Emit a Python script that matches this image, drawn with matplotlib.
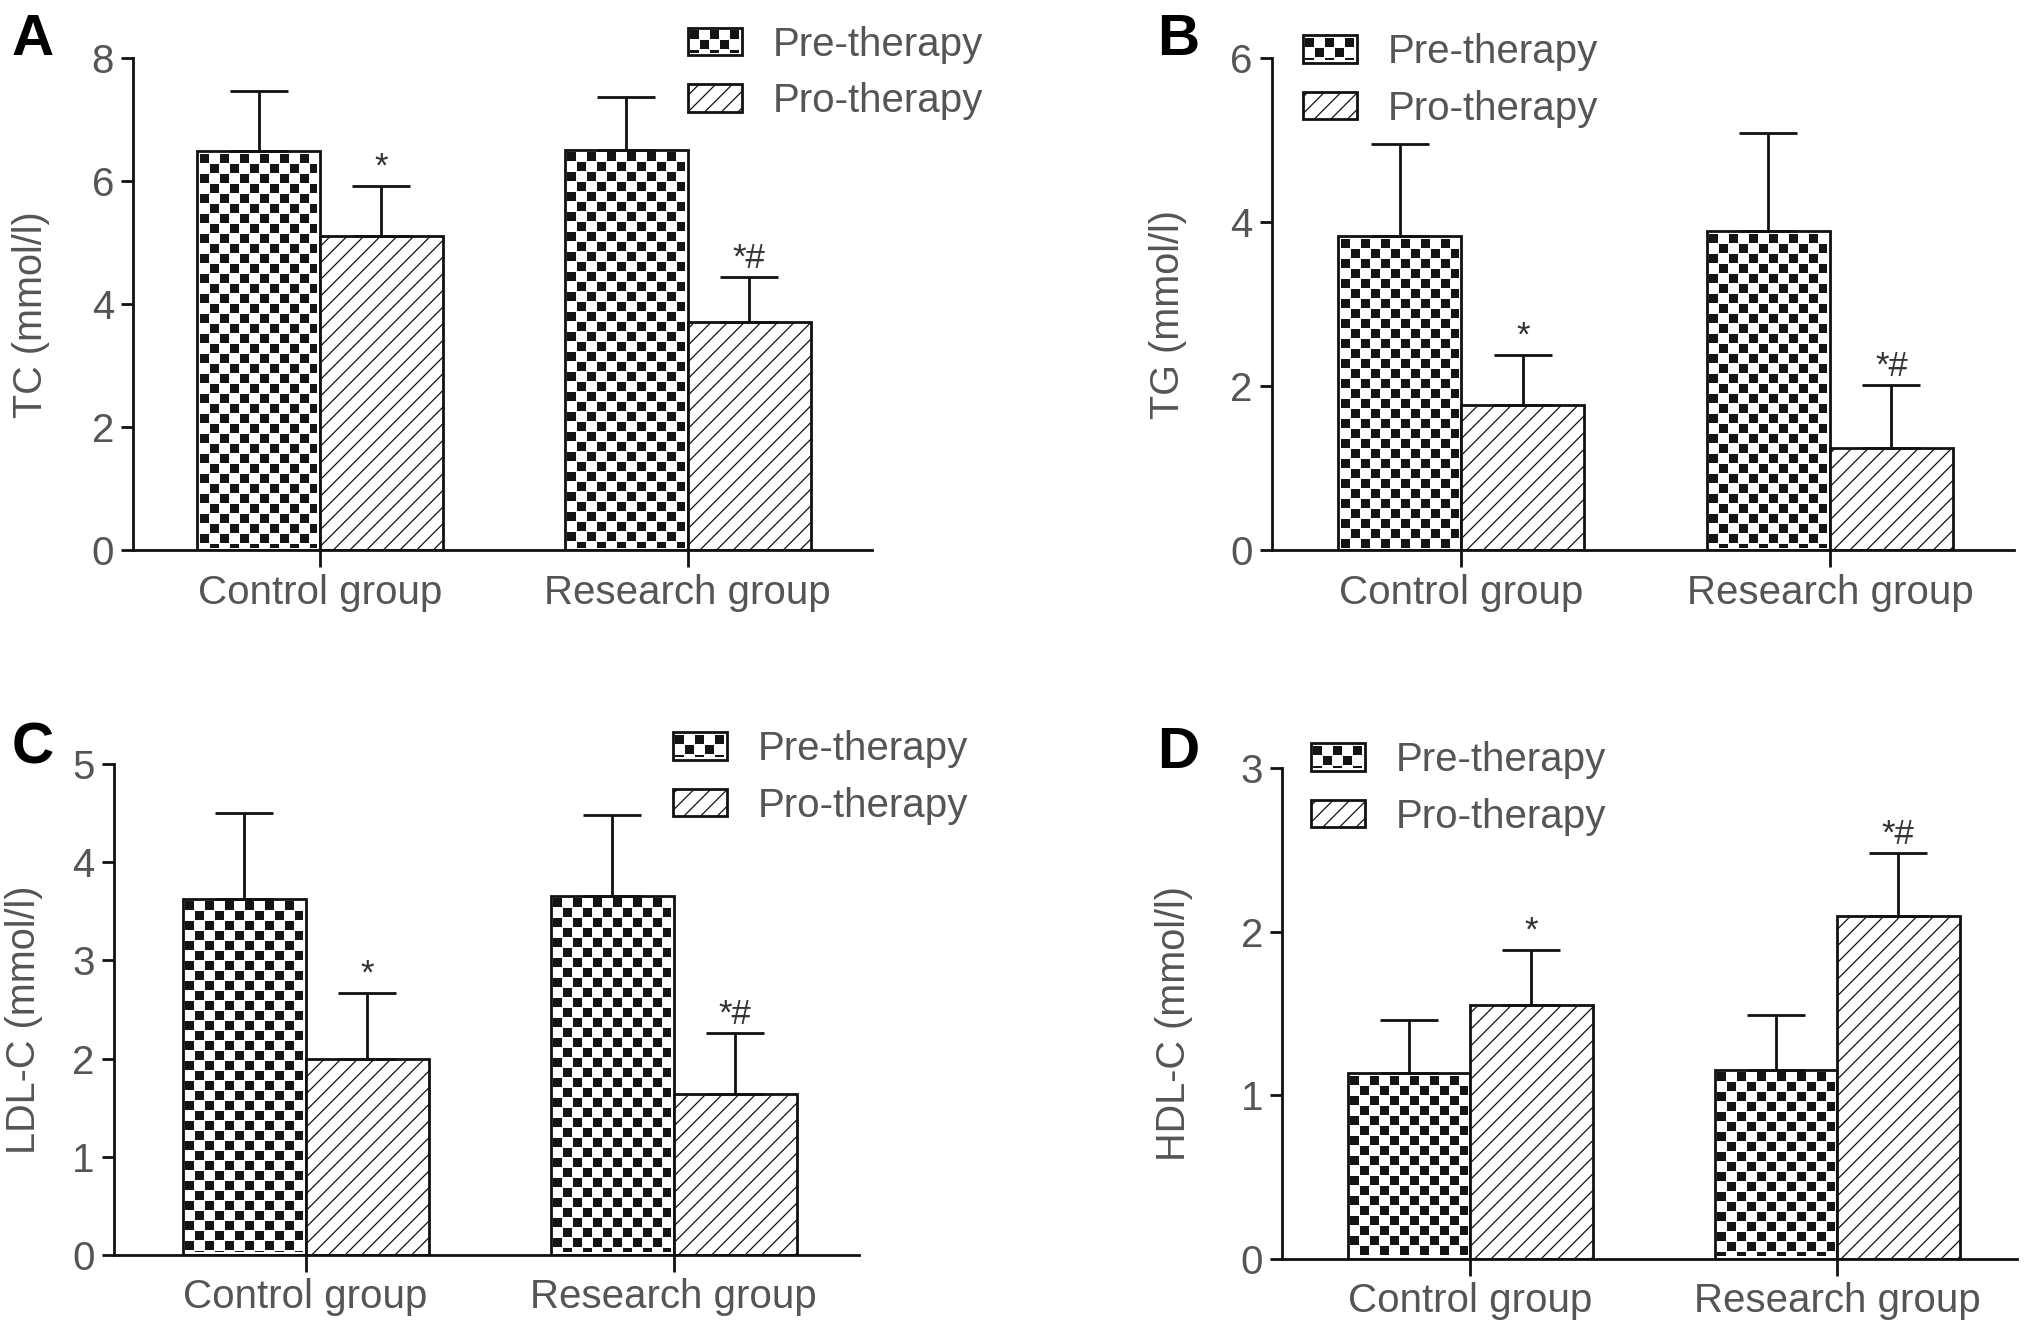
#%%
# imports
import numpy as np
import matplotlib
matplotlib.use("Agg")
import matplotlib.pyplot as plt

plt.rcParams["font.family"] = ["Liberation Sans", "DejaVu Sans"]
plt.rcParams["hatch.linewidth"] = 0.9
plt.rcParams["hatch.color"] = "#333333"

# %%
# values
groups = ["Control group", "Research group"]
series = ["Pre-therapy", "Pro-therapy"]

tc_pre = [6.49, 6.51]
tc_pre_err = [0.98, 0.86]
tc_pro = [5.11, 3.71]
tc_pro_err = [0.82, 0.74]
tc_marks = ["*", "*#"]

tg_pre = [3.83, 3.89]
tg_pre_err = [1.13, 1.20]
tg_pro = [1.77, 1.25]
tg_pro_err = [0.61, 0.76]
tg_marks = ["*", "*#"]

ldl_pre = [3.63, 3.66]
ldl_pre_err = [0.87, 0.82]
ldl_pro = [2.00, 1.64]
ldl_pro_err = [0.67, 0.62]
ldl_marks = ["*", "*#"]

hdl_pre = [1.135, 1.155]
hdl_pre_err = [0.325, 0.335]
hdl_pro = [1.553, 2.094]
hdl_pro_err = [0.337, 0.386]
hdl_marks = ["*", "*#"]

# %%
# layout of the four panels (figure fractions / pixels)
FIG_W, FIG_H = 2031, 1330
DPI = 100
TEXT_C = "#555555"

panels = [
    dict(letter="A", ylabel="TC (mmol/l)", pre=tc_pre, pre_err=tc_pre_err, pro=tc_pro,
         pro_err=tc_pro_err, marks=tc_marks, ymax=8, ystep=2,
         rect=(0.0657, 0.5863, 0.4292 - 0.0657, 0.9561 - 0.5863), xlim=(-0.507, 1.50),
         letter_xy=(0.0059, 0.9588), leg_px=(688, 41.5), ylab_x=-0.139),
    dict(letter="B", ylabel="TG (mmol/l)", pre=tg_pre, pre_err=tg_pre_err, pro=tg_pro,
         pro_err=tg_pro_err, marks=tg_marks, ymax=6, ystep=2,
         rect=(0.6263, 0.5863, 0.9917 - 0.6263, 0.9561 - 0.5863), xlim=(-0.514, 1.50),
         letter_xy=(0.5695, 0.9588), leg_px=(1303, 49), ylab_x=-0.140),
    dict(letter="C", ylabel="LDL-C (mmol/l)", pre=ldl_pre, pre_err=ldl_pre_err, pro=ldl_pro,
         pro_err=ldl_pro_err, marks=ldl_marks, ymax=5, ystep=1,
         rect=(0.0561, 0.0566, 0.4228 - 0.0561, 0.4254 - 0.0566), xlim=(-0.521, 1.503),
         letter_xy=(0.0059, 0.4256), leg_px=(673, 746), ylab_x=-0.121),
    dict(letter="D", ylabel="HDL-C (mmol/l)", pre=hdl_pre, pre_err=hdl_pre_err, pro=hdl_pro,
         pro_err=hdl_pro_err, marks=hdl_marks, ymax=3, ystep=1,
         rect=(0.6314, 0.0537, 0.9930 - 0.6314, 0.4224 - 0.0537), xlim=(-0.512, 1.49),
         letter_xy=(0.5695, 0.4225), leg_px=(1311, 757), ylab_x=-0.147),
]

BAR_W = 0.334


def checker(w, h, cell=10, sq=9):
    """Black squares on white, laid out like a checkerboard."""
    yy, xx = np.mgrid[0:h, 0:w]
    off = (cell - sq) // 2
    on = ((((xx // cell) + (yy // cell)) % 2) == 0)
    on &= ((xx % cell) >= off) & ((xx % cell) < off + sq)
    on &= ((yy % cell) >= off) & ((yy % cell) < off + sq)
    img = np.full((h, w, 3), 255, np.uint8)
    img[on] = 20
    return img


# %%
fig = plt.figure(figsize=(FIG_W / DPI, FIG_H / DPI), dpi=DPI)

checker_patches = []
legends = []
for p in panels:
    ax = fig.add_axes(p["rect"])
    x = np.arange(len(groups))
    pre_bars = ax.bar(x - BAR_W / 2, p["pre"], BAR_W, color="white",
                      edgecolor="#111111", linewidth=2.0, zorder=2)
    pro_bars = ax.bar(x + BAR_W / 2, p["pro"], BAR_W, color="white",
                      edgecolor="#111111", linewidth=2.0, hatch="//", zorder=2)
    # upper error bars only
    ax.errorbar(x - BAR_W / 2, p["pre"], yerr=[np.zeros(2), p["pre_err"]], fmt="none",
                ecolor="#111111", elinewidth=2.0, capsize=21, capthick=2.0, zorder=3)
    ax.errorbar(x + BAR_W / 2, p["pro"], yerr=[np.zeros(2), p["pro_err"]], fmt="none",
                ecolor="#111111", elinewidth=2.0, capsize=21, capthick=2.0, zorder=3)

    for xi, top, err, mark in zip(x + BAR_W / 2, p["pro"], p["pro_err"], p["marks"]):
        ax.annotate(mark, xy=(xi, top + err), xytext=(0, 1.5), textcoords="offset points",
                    ha="center", va="bottom", fontsize=25, color="#333333")

    ax.set_xlim(*p["xlim"])
    ax.set_ylim(0, p["ymax"])
    ax.set_yticks(np.arange(0, p["ymax"] + 0.01, p["ystep"]))
    ax.yaxis.set_major_formatter(plt.FormatStrFormatter("%d"))
    ax.set_xticks(x)
    ax.set_xticklabels(groups)

    for s in ["top", "right"]:
        ax.spines[s].set_visible(False)
    for s in ["left", "bottom"]:
        ax.spines[s].set_linewidth(2.0)
        ax.spines[s].set_color("#111111")
    ax.tick_params(axis="y", length=9, width=2.0, pad=5, labelsize=29,
                   labelcolor=TEXT_C, color="#111111")
    ax.tick_params(axis="x", length=12, width=2.0, pad=5, labelsize=29,
                   labelcolor=TEXT_C, color="#111111")

    ax.set_ylabel(p["ylabel"], fontsize=28.5, color=TEXT_C, va="center")
    ax.yaxis.set_label_coords(p["ylab_x"], 0.48)

    leg = ax.legend([pre_bars, pro_bars], series, loc="upper left",
                    bbox_to_anchor=(p["leg_px"][0] / FIG_W, 1 - p["leg_px"][1] / FIG_H + 0.015),
                    bbox_transform=fig.transFigure, frameon=False, fontsize=29,
                    handlelength=1.33, handleheight=0.67, handletextpad=0.77,
                    labelspacing=0.46, borderpad=0, borderaxespad=0)
    for t in leg.get_texts():
        t.set_color(TEXT_C)
    legends.append((leg, p["leg_px"]))

    fig.text(p["letter_xy"][0], p["letter_xy"][1], p["letter"], fontsize=42,
             fontweight="bold", color="black", va="baseline", ha="left")

    checker_patches.extend(pre_bars.patches)

# %%
# line up the legend swatches with the reference, then fill checker patterns
fig.canvas.draw()
renderer = fig.canvas.get_renderer()
for leg, (tx, ty) in legends:
    bb = leg.legend_handles[0].get_window_extent(renderer)
    dx = tx - bb.x0
    dy = (FIG_H - ty) - (bb.y0 + bb.y1) / 2
    anchor = leg.get_bbox_to_anchor().transformed(fig.transFigure.inverted())
    leg.set_bbox_to_anchor((anchor.x0 + dx / FIG_W, anchor.y0 + dy / FIG_H),
                           transform=fig.transFigure)
fig.canvas.draw()
renderer = fig.canvas.get_renderer()

for leg, _ in legends:
    checker_patches.append(leg.legend_handles[0])

for patch in checker_patches:
    bb = patch.get_window_extent(renderer)
    x0 = int(np.ceil(bb.x0 + 2))
    x1 = int(np.floor(bb.x1 - 2))
    y0 = int(np.ceil(bb.y0 + 2))
    y1 = int(np.floor(bb.y1 - 2))
    if x1 > x0 and y1 > y0:
        fig.figimage(checker(x1 - x0, y1 - y0), xo=x0, yo=y0, origin="upper", zorder=10)

fig.savefig("out.png", dpi=DPI)
